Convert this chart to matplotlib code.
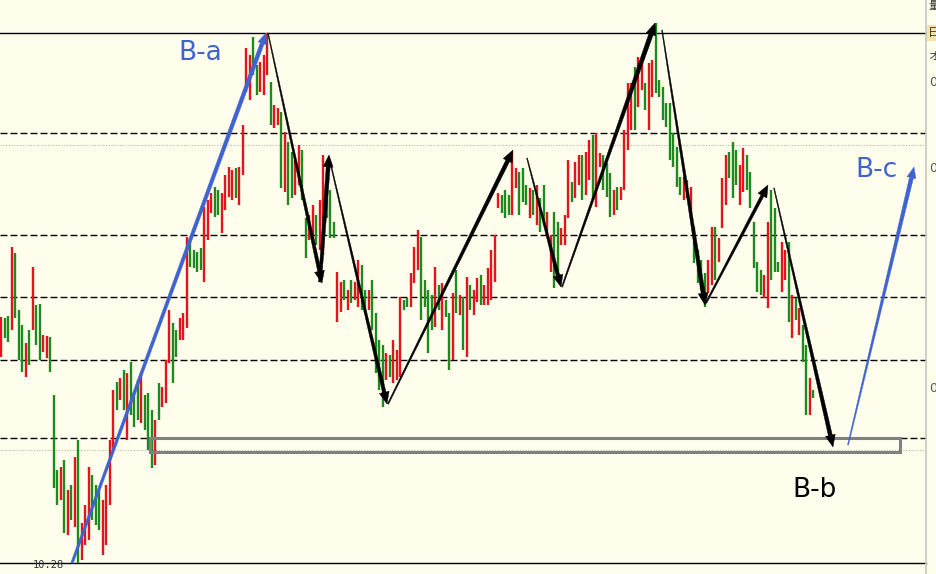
import numpy as np
import matplotlib
matplotlib.use("Agg")
from matplotlib import pyplot as plt
from matplotlib.patches import Polygon, Rectangle

# chart coordinates: x = horizontal position, y = price row (top = high)
STEP = 3.5
X0 = 1

highs = [317, 318, 316, 247, 253, 310, 325, 343, 330, 267,
         305, 304, 335, 336, 337, 395, 470, 467, 460, 490,
         485, 457, 440, 523, 505, 467, 475, 485, 490, 500,
         485, 440, 390, 382, 378, 370, 373, 362, 393, 380,
         373, 395, 393, 410, 420, 383, 387, 360, 310, 323,
         330, 318, 313, 237, 243, 250, 252, 248, 207, 200,
         193, 187, 190, 193, 175, 167, 170, 168, 167, 125,
         48, 55, 37, 65, 62, 55, 33, 82, 105, 108,
         112, 132, 142, 152, 160, 145, 150, 218, 215, 205,
         215, 200, 155, 198, 190, 222, 272, 282, 280, 290,
         280, 282, 260, 265, 290, 290, 280, 313, 340, 345,
         353, 355, 340, 350, 297, 300, 298, 273, 247, 230,
         237, 280, 290, 295, 267, 285, 283, 300, 313, 293,
         270, 295, 297, 277, 285, 290, 278, 275, 285, 268,
         250, 235, 193, 195, 190, 195, 152, 168, 172, 168,
         185, 188, 190, 185, 198, 185, 212, 235, 212, 222,
         228, 215, 160, 182, 162, 155, 155, 152, 140, 135,
         133, 153, 155, 163, 173, 190, 187, 187, 130, 83,
         83, 67, 57, 63, 83, 63, 60, 23, 80, 87,
         103, 103, 133, 147, 177, 177, 180, 187, 227, 250,
         260, 273, 260, 227, 227, 238, 178, 155, 152, 142,
         150, 165, 148, 155, 172, 222, 262, 270, 275, 222,
         190, 208, 262, 242, 250, 242, 295, 298, 308, 325,
         345, 378, 390]

lows = [357, 338, 342, 330, 318, 360, 372, 377, 365, 330,
        345, 360, 352, 358, 372, 488, 505, 500, 533, 535,
        520, 527, 563, 560, 545, 540, 520, 525, 530, 555,
        545, 505, 450, 410, 400, 410, 440, 415, 427, 420,
        423, 430, 450, 468, 465, 420, 407, 403, 363, 383,
        357, 340, 340, 328, 267, 268, 272, 270, 282, 240,
        213, 217, 215, 233, 210, 197, 200, 198, 205, 175,
        92, 100, 75, 95, 92, 95, 75, 125, 128, 125,
        188, 192, 205, 198, 195, 185, 200, 258, 240, 242,
        245, 250, 255, 218, 238, 238, 322, 312, 300, 310,
        303, 300, 307, 310, 313, 310, 330, 373, 390, 407,
        380, 377, 383, 380, 377, 310, 307, 307, 283, 270,
        320, 307, 353, 330, 327, 310, 330, 317, 370, 360,
        313, 315, 350, 357, 310, 315, 302, 305, 305, 305,
        300, 282, 208, 213, 218, 215, 215, 188, 215, 202,
        205, 218, 215, 225, 232, 225, 235, 272, 288, 282,
        245, 245, 218, 202, 198, 185, 200, 195, 180, 200,
        207, 167, 190, 197, 217, 215, 210, 200, 190, 150,
        130, 130, 107, 90, 110, 130, 97, 93, 97, 120,
        127, 160, 167, 187, 195, 200, 198, 213, 263, 283,
        290, 307, 293, 285, 280, 262, 228, 205, 178, 198,
        185, 205, 192, 190, 208, 268, 292, 295, 298, 308,
        280, 272, 272, 292, 280, 322, 338, 320, 335, 362,
        415, 415, 398]

colors = ("rggrgggrgr" "ggrrgggrgr" "grgrrrgggr" "rrrgrgrggg"
          "rgggrgrrrg" "grrrggggrr" "rggrrrrgrr" "rrggrrrgrr"
          "grggrrggrr" "grrgggrrgr" "grrggrgggg" "rgrrrggrrr"
          "ggggrgrggr" "grgrgrrgrr" "rrrgggrrgg" "grgrggrrgg"
          "rrrgrrgrrg" "rrgggrgrrr" "rgrrgrrggg" "gggggrgrgg"
          "ggrrgrrrgg" "grrgggggrr" "gggrrgrgrg" "grg")

# support box and horizontal levels
box_top, box_bottom, box_left, box_right = 438, 452, 150, 900
dashed_levels = [133, 235, 297, 360, 438]
dotted_levels = [145, 450]
solid_levels = [33, 563]

# swing arrows: start, end, start width, end width
waves = [((268, 33), (322, 283), 0.8, 3.5),
         ((320, 282), (329, 155), 3.0, 4.0),
         ((329, 157), (387, 404), 0.8, 3.5),
         ((388, 404), (513, 150), 1.2, 4.0),
         ((527, 158), (561, 287), 0.8, 3.5),
         ((562, 287), (655, 23), 1.2, 4.5),
         ((662, 30), (705, 305), 0.8, 4.0),
         ((706, 303), (768, 185), 1.5, 3.2),
         ((774, 188), (833, 447), 0.8, 4.0)]
blue_waves = [((72, 563), (266, 33), 2.5, 4.0),
              ((848, 445), (914, 167), 1.0, 4.0)]


def tapered_arrow(ax, p0, p1, w0, w1, color, hl=12, hw=10):
    p0 = np.array(p0, float)
    p1 = np.array(p1, float)
    u = (p1 - p0) / np.hypot(*(p1 - p0))
    n = np.array([-u[1], u[0]])
    s = p1 - u * hl
    shaft = [p0 + n * w0 / 2, p0 - n * w0 / 2, s - n * w1 / 2, s + n * w1 / 2]
    head = [s + n * hw / 2, p1, s - n * hw / 2]
    ax.add_patch(Polygon(shaft, closed=True, fc=color, ec=color, lw=0.3, zorder=5))
    ax.add_patch(Polygon(head, closed=True, fc=color, ec=color, lw=0.3, zorder=5))


bg = "#fffdec"
fig = plt.figure(figsize=(9.36, 5.74), dpi=100, facecolor=bg)
ax = fig.add_axes([0, 0, 1, 1])
ax.set_facecolor(bg)
ax.set_xlim(0, 936)
ax.set_ylim(574, 0)
ax.axis("off")

for y in dashed_levels:
    ax.plot([0, 926], [y, y], color="black", lw=1, ls=(0, (5, 2.2)), zorder=1)
for y in dotted_levels:
    ax.plot([0, 926], [y, y], color="#b4b4a8", lw=0.8, ls=(0, (1, 1.5)), zorder=1)
for y in solid_levels:
    ax.plot([0, 926], [y, y], color="black", lw=1, zorder=1)
ax.plot([926, 926], [0, 574], color="#c8c8c0", lw=1.2, zorder=1)

xs = X0 + STEP * np.arange(len(highs))
red, green = "#e3141c", "#1c8a1c"
cols = [red if c == "r" else green for c in colors]
ax.vlines(xs, highs, lows, colors=cols, lw=1.7, zorder=3)

ax.add_patch(Rectangle((box_left, box_top), box_right - box_left, box_bottom - box_top,
                       fill=False, ec="#808080", lw=2.2, zorder=4))

for p0, p1, w0, w1 in waves:
    tapered_arrow(ax, p0, p1, w0, w1, "black")
for p0, p1, w0, w1 in blue_waves:
    tapered_arrow(ax, p0, p1, w0, w1, "#3f63cf", hl=11, hw=9)

ax.text(178, 53, "B-a", color="#3f63cf", fontsize=19, ha="left", va="center", zorder=6)
ax.text(855, 170, "B-c", color="#3f63cf", fontsize=19, ha="left", va="center", zorder=6)
ax.text(792, 490, "B-b", color="black", fontsize=19, ha="left", va="center", zorder=6)
ax.text(33, 565, "10.28", color="#333333", fontsize=7.5, family="DejaVu Sans Mono",
        ha="left", va="center", zorder=6)

# cropped price-scale panel on the right edge
ax.add_patch(Rectangle((927, 25), 9, 16, fc="#f3e3a6", ec="none", zorder=2))
for y, s in [(6, "量"), (33, "日"), (57, "オ")]:
    ax.text(928, y, s, fontsize=8, color="#333333", ha="left", va="center",
            family=["Noto Sans CJK JP", "DejaVu Sans"])
for y in [82, 168, 388]:
    ax.text(929, y, "0", fontsize=9, color="#555555", ha="left", va="center")

fig.savefig("out.png", dpi=100, facecolor=bg)
